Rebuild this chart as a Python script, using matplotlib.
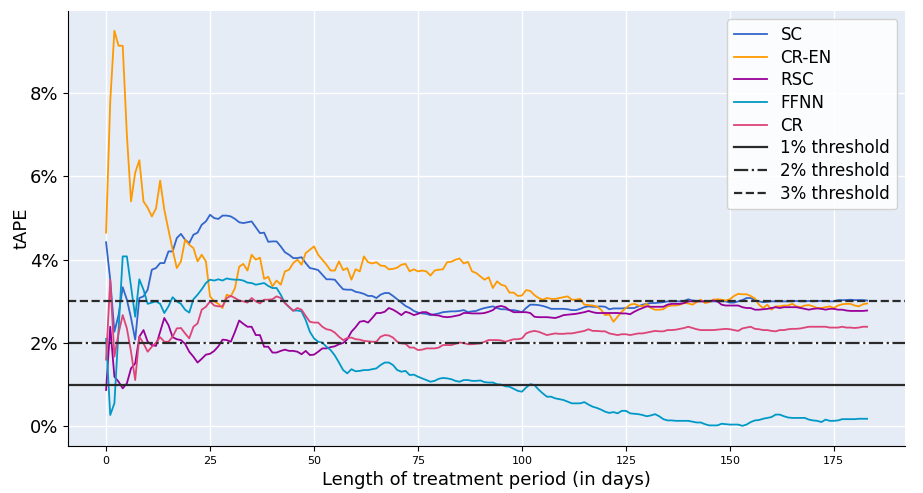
import matplotlib
matplotlib.use("Agg")
import matplotlib.pyplot as plt
import numpy as np
from matplotlib.ticker import MultipleLocator, FuncFormatter

# tAPE (%) per day of treatment, days 0..183
sc = [4.42, 3.52, 2.27, 2.67, 3.34, 3.04, 2.60, 2.08, 3.08, 3.12,
      3.28, 3.76, 3.80, 3.92, 3.92, 4.20, 4.20, 4.52, 4.62, 4.48,
      4.40, 4.60, 4.65, 4.84, 4.92, 5.08, 5.00, 4.98, 5.06, 5.06,
      5.04, 4.98, 4.90, 4.88, 4.90, 4.92, 4.78, 4.64, 4.65, 4.43,
      4.44, 4.44, 4.32, 4.18, 4.12, 4.04, 4.04, 4.06, 3.92, 3.80,
      3.78, 3.75, 3.64, 3.53, 3.53, 3.52, 3.40, 3.29, 3.28, 3.28,
      3.23, 3.21, 3.18, 3.13, 3.13, 3.08, 3.16, 3.20, 3.20, 3.13,
      3.05, 2.97, 2.89, 2.84, 2.77, 2.73, 2.71, 2.70, 2.67, 2.69,
      2.71, 2.74, 2.75, 2.76, 2.76, 2.77, 2.79, 2.74, 2.76, 2.77,
      2.81, 2.84, 2.86, 2.88, 2.84, 2.81, 2.81, 2.79, 2.79, 2.77,
      2.74, 2.84, 2.92, 2.92, 2.91, 2.89, 2.86, 2.82, 2.82, 2.82,
      2.82, 2.81, 2.79, 2.79, 2.82, 2.86, 2.88, 2.87, 2.87, 2.88,
      2.87, 2.81, 2.83, 2.83, 2.83, 2.84, 2.84, 2.84, 2.88, 2.92,
      2.94, 2.96, 2.96, 2.97, 2.98, 3.00, 3.00, 3.00, 3.00, 3.01,
      3.05, 3.02, 3.01, 3.00, 3.00, 3.00, 3.00, 3.00, 3.00, 3.00,
      2.97, 2.97, 3.00, 3.03, 3.08, 3.08, 3.03, 3.00, 2.98, 2.99,
      3.00, 3.00, 3.00, 3.00, 3.00, 3.00, 3.01, 3.00, 3.00, 3.01,
      3.00, 3.01, 3.01, 3.01, 3.00, 3.00, 3.03, 3.03, 3.03, 3.04,
      3.03, 3.03, 3.03, 3.02]

cr_en = [4.65, 7.80, 9.50, 9.14, 9.14, 7.00, 5.40, 6.09, 6.39, 5.40,
         5.25, 5.04, 5.23, 5.90, 5.20, 4.72, 4.24, 3.80, 3.96, 4.48,
         4.36, 4.28, 3.96, 4.12, 3.96, 3.12, 3.00, 2.94, 2.84, 3.16,
         3.12, 3.32, 3.83, 3.90, 3.74, 4.12, 4.00, 4.05, 3.54, 3.59,
         3.36, 3.50, 3.40, 3.72, 3.76, 3.92, 4.00, 3.88, 4.16, 4.24,
         4.32, 4.12, 4.00, 3.88, 3.74, 3.74, 3.96, 3.75, 3.80, 3.52,
         3.77, 3.72, 4.08, 3.94, 3.91, 3.94, 3.86, 3.85, 3.77, 3.78,
         3.81, 3.88, 3.90, 3.72, 3.77, 3.72, 3.74, 3.72, 3.62, 3.74,
         3.76, 3.77, 3.94, 3.95, 4.00, 4.03, 3.91, 3.95, 3.72, 3.68,
         3.60, 3.52, 3.58, 3.32, 3.48, 3.40, 3.37, 3.21, 3.21, 3.13,
         3.14, 3.27, 3.25, 3.15, 3.08, 3.04, 3.08, 3.06, 3.06, 3.08,
         3.10, 3.12, 3.04, 3.04, 3.06, 2.92, 2.91, 2.90, 2.88, 2.80,
         2.67, 2.69, 2.51, 2.63, 2.75, 2.84, 2.92, 2.94, 2.90, 2.88,
         2.94, 2.84, 2.80, 2.80, 2.81, 2.88, 2.90, 2.90, 2.92, 2.96,
         2.95, 2.92, 2.98, 3.04, 2.96, 2.98, 3.04, 3.05, 3.04, 3.02,
         3.05, 3.13, 3.18, 3.17, 3.17, 3.13, 3.07, 2.92, 2.84, 2.92,
         2.80, 2.88, 2.88, 2.90, 2.90, 2.94, 2.88, 2.86, 2.90, 2.91,
         2.88, 2.84, 2.84, 2.86, 2.88, 2.84, 2.90, 2.93, 2.94, 2.94,
         2.90, 2.88, 2.93, 2.95]

rsc = [0.87, 2.39, 1.19, 1.07, 0.91, 1.03, 1.39, 1.51, 2.15, 2.31,
       2.03, 1.95, 1.93, 2.27, 2.60, 2.43, 2.14, 2.09, 2.07, 1.98,
       1.79, 1.67, 1.53, 1.62, 1.72, 1.74, 1.81, 1.92, 2.08, 2.07,
       2.03, 2.27, 2.54, 2.46, 2.39, 2.39, 2.19, 2.19, 1.91, 1.91,
       1.77, 1.77, 1.81, 1.84, 1.81, 1.81, 1.79, 1.73, 1.81, 1.71,
       1.72, 1.79, 1.87, 1.87, 1.90, 1.92, 1.97, 2.00, 2.09, 2.27,
       2.38, 2.51, 2.53, 2.49, 2.60, 2.72, 2.72, 2.75, 2.84, 2.80,
       2.74, 2.67, 2.75, 2.72, 2.67, 2.70, 2.74, 2.74, 2.69, 2.67,
       2.66, 2.63, 2.62, 2.63, 2.65, 2.67, 2.72, 2.72, 2.71, 2.71,
       2.71, 2.72, 2.75, 2.79, 2.87, 2.89, 2.86, 2.79, 2.74, 2.74,
       2.74, 2.74, 2.72, 2.63, 2.62, 2.62, 2.62, 2.61, 2.60, 2.63,
       2.67, 2.68, 2.69, 2.70, 2.72, 2.74, 2.77, 2.74, 2.72, 2.72,
       2.72, 2.72, 2.72, 2.72, 2.71, 2.71, 2.69, 2.75, 2.80, 2.84,
       2.88, 2.87, 2.87, 2.87, 2.87, 2.92, 2.94, 2.94, 2.94, 2.96,
       3.00, 3.00, 3.00, 3.00, 3.00, 3.00, 3.02, 3.00, 2.92, 2.90,
       2.90, 2.90, 2.90, 2.86, 2.84, 2.84, 2.80, 2.80, 2.81, 2.82,
       2.84, 2.86, 2.84, 2.86, 2.86, 2.86, 2.86, 2.84, 2.82, 2.80,
       2.82, 2.83, 2.82, 2.80, 2.82, 2.82, 2.80, 2.80, 2.78, 2.77,
       2.77, 2.77, 2.77, 2.78]

ffnn = [2.10, 0.27, 0.55, 2.30, 4.08, 4.08, 3.36, 2.63, 3.53, 3.28,
        2.94, 2.97, 3.00, 2.94, 2.72, 2.88, 3.10, 3.00, 2.94, 2.80,
        2.73, 3.05, 3.16, 3.29, 3.44, 3.52, 3.50, 3.53, 3.50, 3.55,
        3.53, 3.52, 3.52, 3.50, 3.45, 3.44, 3.40, 3.42, 3.44, 3.37,
        3.32, 3.32, 3.16, 2.96, 2.86, 2.78, 2.78, 2.76, 2.55, 2.27,
        2.11, 2.03, 2.01, 1.91, 1.83, 1.70, 1.53, 1.35, 1.27, 1.37,
        1.32, 1.33, 1.35, 1.35, 1.37, 1.39, 1.47, 1.53, 1.53, 1.47,
        1.35, 1.31, 1.33, 1.23, 1.24, 1.19, 1.15, 1.11, 1.07, 1.09,
        1.14, 1.16, 1.15, 1.13, 1.09, 1.07, 1.11, 1.11, 1.09, 1.09,
        1.10, 1.06, 1.05, 1.05, 1.01, 1.00, 0.96, 0.95, 0.90, 0.85,
        0.83, 0.93, 1.01, 0.99, 0.88, 0.79, 0.71, 0.71, 0.67, 0.65,
        0.63, 0.59, 0.55, 0.55, 0.55, 0.58, 0.52, 0.47, 0.44, 0.40,
        0.35, 0.32, 0.34, 0.31, 0.37, 0.37, 0.31, 0.30, 0.29, 0.27,
        0.24, 0.26, 0.29, 0.24, 0.17, 0.14, 0.14, 0.13, 0.13, 0.13,
        0.13, 0.11, 0.09, 0.09, 0.05, 0.02, 0.02, 0.02, 0.06, 0.05,
        0.04, 0.04, 0.04, 0.01, 0.04, 0.10, 0.14, 0.15, 0.18, 0.20,
        0.22, 0.28, 0.28, 0.24, 0.21, 0.20, 0.20, 0.20, 0.20, 0.16,
        0.14, 0.13, 0.10, 0.16, 0.13, 0.13, 0.14, 0.17, 0.17, 0.17,
        0.17, 0.18, 0.18, 0.18]

cr = [1.60, 3.52, 1.67, 2.23, 2.67, 2.35, 1.79, 1.11, 2.15, 1.99,
      1.79, 1.91, 2.01, 2.14, 2.03, 2.03, 2.15, 2.35, 2.36, 2.23,
      2.11, 2.39, 2.47, 2.80, 2.87, 3.00, 2.90, 2.88, 2.88, 3.08,
      3.13, 3.08, 3.02, 3.00, 2.97, 3.08, 3.00, 2.95, 3.04, 3.04,
      3.05, 3.12, 3.08, 2.96, 2.87, 2.77, 2.84, 2.80, 2.65, 2.51,
      2.49, 2.49, 2.39, 2.33, 2.31, 2.25, 2.15, 2.07, 2.12, 2.13,
      2.09, 2.08, 2.05, 2.04, 2.03, 2.03, 2.15, 2.19, 2.18, 2.13,
      2.03, 1.99, 1.98, 1.89, 1.89, 1.83, 1.84, 1.87, 1.87, 1.87,
      1.89, 1.95, 1.95, 1.95, 1.98, 2.01, 2.00, 1.97, 1.97, 1.98,
      1.99, 2.03, 2.07, 2.07, 2.07, 2.06, 2.03, 2.06, 2.09, 2.09,
      2.11, 2.23, 2.27, 2.29, 2.27, 2.23, 2.19, 2.21, 2.23, 2.22,
      2.22, 2.23, 2.23, 2.25, 2.27, 2.29, 2.33, 2.29, 2.29, 2.28,
      2.28, 2.23, 2.21, 2.19, 2.21, 2.21, 2.19, 2.21, 2.23, 2.23,
      2.25, 2.27, 2.29, 2.28, 2.28, 2.31, 2.31, 2.32, 2.34, 2.36,
      2.39, 2.36, 2.33, 2.31, 2.31, 2.31, 2.31, 2.32, 2.33, 2.34,
      2.33, 2.31, 2.29, 2.35, 2.37, 2.39, 2.34, 2.33, 2.31, 2.31,
      2.29, 2.28, 2.31, 2.31, 2.33, 2.34, 2.34, 2.35, 2.37, 2.39,
      2.39, 2.39, 2.39, 2.39, 2.37, 2.37, 2.37, 2.39, 2.37, 2.37,
      2.36, 2.37, 2.39, 2.39]

series = [
    ("SC", sc, "#3366CC"),
    ("CR-EN", cr_en, "#FF9900"),
    ("RSC", rsc, "#990099"),
    ("FFNN", ffnn, "#0099C6"),
    ("CR", cr, "#DD4477"),
]

thresholds = [(1, "1% threshold", "-"), (2, "2% threshold", "-."), (3, "3% threshold", "--")]

fig = plt.figure(figsize=(9.23, 4.93), dpi=100)
ax = fig.add_axes([0.0737, 0.0953, 0.907, 0.8824])
ax.set_facecolor("#E5ECF6")

for name, vals, color in series:
    ax.plot(np.arange(len(vals)), vals, color=color, linewidth=1.3, label=name)

for level, name, ls in thresholds:
    ax.axhline(level, color="#2a2a2a", linestyle=ls, linewidth=1.6, label=name)

ax.grid(True, color="white", linewidth=1.0)
ax.set_axisbelow(True)
for side in ["top", "right"]:
    ax.spines[side].set_visible(False)

ax.set_xlim(-9.15, 192.15)
ax.set_ylim(-0.475, 9.975)
ax.yaxis.set_major_locator(MultipleLocator(2))
ax.yaxis.set_major_formatter(FuncFormatter(lambda v, p: f"{v:.0f}%"))
ax.xaxis.set_major_locator(MultipleLocator(25))
ax.tick_params(axis="y", labelsize=13)
ax.tick_params(axis="x", labelsize=8)

ax.set_xlabel("Length of treatment period (in days)", fontsize=13)
ax.set_ylabel("tAPE", fontsize=13)
ax.yaxis.set_label_coords(-0.045, 0.5)

ax.legend(loc="upper right", fontsize=12, labelspacing=0.28, framealpha=0.85)

fig.savefig("out.png", dpi=100)
